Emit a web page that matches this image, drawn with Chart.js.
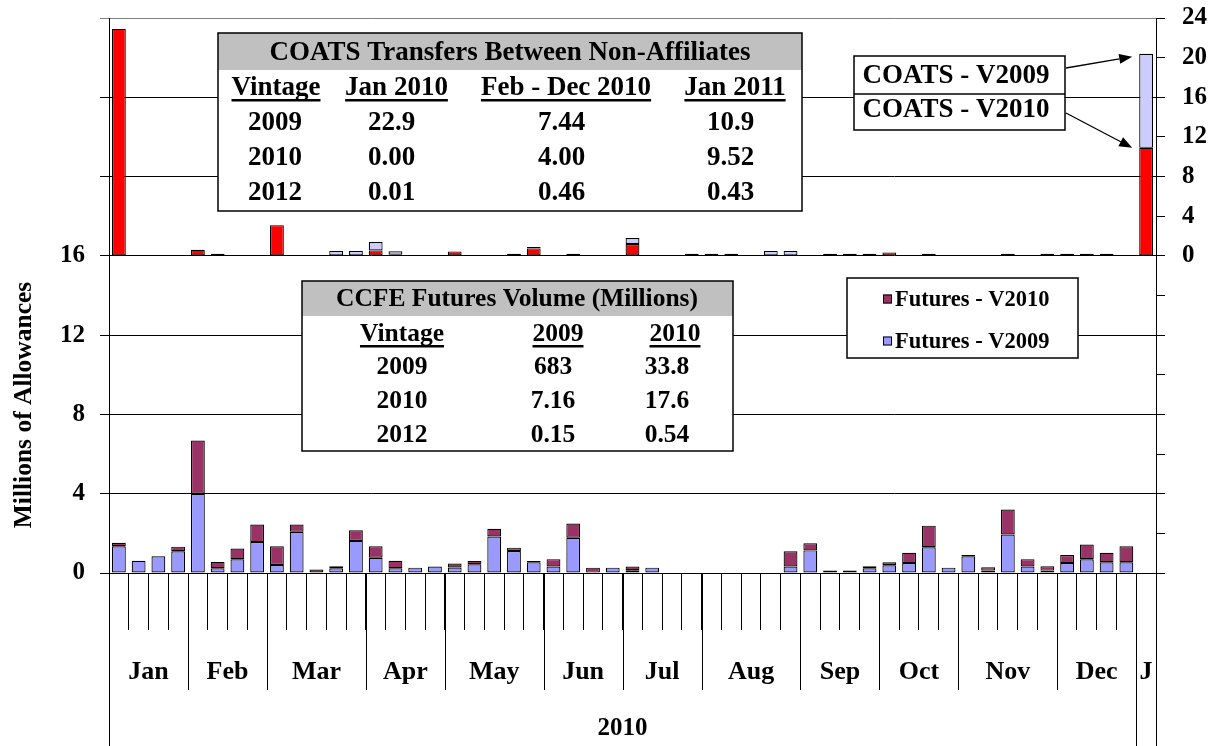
<!DOCTYPE html>
<html><head><meta charset="utf-8">
<script src="https://cdn.jsdelivr.net/npm/chart.js@4.4.0/dist/chart.umd.min.js"></script>
<style>html,body{margin:0;padding:0;background:#fff;}canvas{display:block;}</style>
</head><body>
<canvas id="c" width="1208" height="746"></canvas>
<script>
// ---------- DATA ----------
const weeks = [
 'Jan-1','Jan-2','Jan-3','Jan-4',
 'Feb-1','Feb-2','Feb-3','Feb-4',
 'Mar-1','Mar-2','Mar-3','Mar-4','Mar-5',
 'Apr-1','Apr-2','Apr-3','Apr-4',
 'May-1','May-2','May-3','May-4','May-5',
 'Jun-1','Jun-2','Jun-3','Jun-4',
 'Jul-1','Jul-2','Jul-3','Jul-4',
 'Aug-1','Aug-2','Aug-3','Aug-4','Aug-5',
 'Sep-1','Sep-2','Sep-3','Sep-4',
 'Oct-1','Oct-2','Oct-3','Oct-4',
 'Nov-1','Nov-2','Nov-3','Nov-4','Nov-5',
 'Dec-1','Dec-2','Dec-3','Dec-4',
 'Jan11-1'
];
const monthNames = ['Jan','Feb','Mar','Apr','May','Jun','Jul','Aug','Sep','Oct','Nov','Dec','J'];
const weeksPerMonth = [4,4,5,4,5,4,4,5,4,4,5,4,1];
const yearName = '2010';
const yearMonths = 12;

// COATS transfers (right axis, millions)
const coatsV2010 = [22.9,0,0,0, 0.62,0.22,0,0, 3.1,0,0,0,0, 0.55,0.12,0,0, 0.45,0,0,0.22,0.75,
  0,0.22,0,0, 1.2,0,0,0.22, 0.22,0.22,0,0,0, 0,0.22,0.22,0.22, 0.35,0,0.22,0, 0,0,0.22,0,0.22, 0.22,0.22,0.22,0, 10.9];
const coatsV2009 = [0,0,0,0, 0,0,0,0, 0,0,0,0.5,0.5, 0.85,0.35,0,0, 0,0,0,0,0.15,
  0,0,0,0, 0.6,0,0,0, 0,0,0,0.5,0.5, 0,0,0,0, 0,0,0,0, 0,0,0,0,0, 0,0,0,0, 9.5];

// CCFE futures (left axis, millions)
const futV2009 = [1.35,0.62,0.84,1.1, 4.0,0.24,0.69,1.56, 0.4,2.08,0.03,0.24,1.62, 0.77,0.24,0.27,0.33,
  0.28,0.44,1.84,1.11,0.54, 0.33,1.78,0.02,0.27, 0.14,0.27,0,0, 0,0,0,0,0.33,
  1.14,0.02,0.02,0.24, 0.39,0.5,1.3,0.27, 0.84,0.12,1.94,0.33,0.12, 0.5,0.69,0.54,0.54, 0];
const futV2010 = [0.17,0,0,0.23, 2.68,0.32,0.54,0.89, 0.95,0.37,0.15,0.1,0.54, 0.58,0.38,0,0,
  0.2,0.17,0.39,0.17,0.07, 0.37,0.72,0.25,0, 0.19,0,0,0, 0,0,0,0,0.77,
  0.36,0.11,0.11,0.1, 0.15,0.52,1.09,0, 0.07,0.17,1.26,0.37,0.22, 0.41,0.75,0.48,0.81, 0];

const leftTicksMax = 16, leftMin = 0, leftMax = 28, rightMin = -32, rightMax = 24, tickStep = 4;

const coatsTitle = 'COATS Transfers Between Non-Affiliates';
const coatsHeader = ['Vintage','Jan 2010','Feb - Dec 2010','Jan 2011'];
const coatsRows = [['2009','22.9','7.44','10.9'],['2010','0.00','4.00','9.52'],['2012','0.01','0.46','0.43']];
const ccfeTitle = 'CCFE Futures Volume (Millions)';
const ccfeHeader = ['Vintage','2009','2010'];
const ccfeRows = [['2009','683','33.8'],['2010','7.16','17.6'],['2012','0.15','0.54']];
const coatsLabels = ['COATS - V2009','COATS - V2010'];
const yTitle = 'Millions of Allowances';

// ---------- STYLE ----------
const FAM = '"Liberation Serif","Times New Roman",serif';
const F = s => `bold ${s}px ${FAM}`;
const RED = '#FF0000', LAV = '#CCCCFF', BLUE = '#9999FF', PLUM = '#993366';

const overlay = {
  id: 'overlay',
  afterDraw(chart) {
    const ctx = chart.ctx, x = chart.scales.x, y2 = chart.scales.y2, a = chart.chartArea;
    const step = x.getPixelForValue(1) - x.getPixelForValue(0);
    const edge = i => x.getPixelForValue(0) - step / 2 + i * step;
    const px = v => Math.round(v) + 0.5;
    ctx.save();
    // month / year separators and labels
    ctx.strokeStyle = '#000'; ctx.lineWidth = 1;
    let b = 0; const bounds = [0];
    weeksPerMonth.forEach(n => { b += n; bounds.push(b); });
    bounds.forEach((bi, k) => {
      const full = (k === 0 || k === yearMonths || k === bounds.length - 1);
      ctx.beginPath(); ctx.moveTo(px(edge(bi)), a.bottom); ctx.lineTo(px(edge(bi)), full ? 746 : 690); ctx.stroke();
    });
    ctx.fillStyle = '#000'; ctx.textAlign = 'center'; ctx.textBaseline = 'middle';
    ctx.font = F(26);
    monthNames.forEach((m, k) => {
      ctx.fillText(m, (edge(bounds[k]) + edge(bounds[k + 1])) / 2, 672);
    });
    ctx.font = F(25);
    ctx.fillText(yearName, (edge(0) + edge(bounds[yearMonths])) / 2, 729);
    // y title
    ctx.save(); ctx.translate(24, 405); ctx.rotate(-Math.PI / 2);
    ctx.font = F(25.5); ctx.fillText(yTitle, 0, 0); ctx.restore();

    const box = (x0, y0, x1, y1, hy) => {
      ctx.fillStyle = '#fff'; ctx.fillRect(x0, y0, x1 - x0, y1 - y0);
      if (hy) { ctx.fillStyle = '#C0C0C0'; ctx.fillRect(x0, y0, x1 - x0, hy - y0); }
      ctx.strokeStyle = '#000'; ctx.lineWidth = 1.5; ctx.strokeRect(x0, y0, x1 - x0, y1 - y0);
    };
    const under = (t, cx, cy, off) => {
      const w = ctx.measureText(t).width;
      ctx.fillText(t, cx, cy);
      ctx.fillRect(cx - w / 2, cy + off, w, 2.5);
    };
    // COATS table
    box(218, 33, 802, 211, 70);
    ctx.fillStyle = '#000'; ctx.font = F(27);
    ctx.fillText(coatsTitle, 510, 53);
    const cx1 = [276, 396.5, 566, 735], cr1 = [275, 391.5, 561.5, 730.5];
    coatsHeader.forEach((t, i) => under(t, cx1[i], 88, 11));
    coatsRows.forEach((r, j) => r.forEach((t, i) => ctx.fillText(t, cr1[i], 123 + j * 35)));
    // CCFE table
    box(302, 281, 733, 451, 316);
    ctx.fillStyle = '#000'; ctx.font = F(25.5);
    ctx.fillText(ccfeTitle, 517, 299);
    const cx2 = [402, 558, 675], cr2 = [402, 553, 667];
    ccfeHeader.forEach((t, i) => under(t, cx2[i], 334, 11));
    ccfeRows.forEach((r, j) => r.forEach((t, i) => ctx.fillText(t, cr2[i], 367 + j * 34)));
    // Futures legend
    box(847, 278, 1078, 358);
    ctx.font = F(22.5); ctx.textAlign = 'left';
    [[PLUM, chart.data.datasets[3].label, 299], [BLUE, chart.data.datasets[2].label, 341]].forEach(([c, t, yy]) => {
      ctx.fillStyle = c; ctx.fillRect(883, yy - 4.5, 9, 9);
      ctx.strokeStyle = '#000'; ctx.lineWidth = 1; ctx.strokeRect(883.5, yy - 4, 8, 8);
      ctx.fillStyle = '#000'; ctx.fillText(t, 895, yy + 1);
    });
    // COATS labels with arrows
    ctx.textAlign = 'center';
    box(854, 56, 1065, 130);
    ctx.beginPath(); ctx.moveTo(854, 94); ctx.lineTo(1065, 94); ctx.stroke();
    ctx.fillStyle = '#000'; ctx.font = F(27);
    ctx.fillText(coatsLabels[0], 956, 76);
    ctx.fillText(coatsLabels[1], 956, 110);
    const last = weeks.length - 1;
    const tipX = x.getPixelForValue(last) - step * 0.35 - 7;
    const tips = [[1066, 68, y2.getPixelForValue(coatsV2010[last] + coatsV2009[last]) + 3],
                  [1066, 113, y2.getPixelForValue(coatsV2010[last])]];
    tips.forEach(([sx, sy, ty]) => {
      const ang = Math.atan2(ty - sy, tipX - sx);
      const L = 13, W = 5;
      const bx = tipX - L * Math.cos(ang), by = ty - L * Math.sin(ang);
      ctx.lineWidth = 1.3; ctx.strokeStyle = '#000';
      ctx.beginPath(); ctx.moveTo(sx, sy); ctx.lineTo(bx, by); ctx.stroke();
      ctx.beginPath(); ctx.moveTo(tipX, ty);
      ctx.lineTo(bx + W * Math.sin(ang), by - W * Math.cos(ang));
      ctx.lineTo(bx - W * Math.sin(ang), by + W * Math.cos(ang));
      ctx.closePath(); ctx.fill();
    });
    ctx.restore();
  }
};

const common = { borderColor: '#000', borderWidth: 1.2, borderSkipped: false, grouped: false,
  barPercentage: 0.7, categoryPercentage: 1.0 };

const vFit = w => s => { s.width = w; s.paddingTop = 0; s.paddingBottom = 0; };

new Chart(document.getElementById('c'), {
  type: 'bar',
  data: {
    labels: weeks,
    datasets: [
      Object.assign({ label: 'COATS - V2010', data: coatsV2010, backgroundColor: RED, yAxisID: 'y2' }, common),
      Object.assign({ label: 'COATS - V2009', data: coatsV2009, backgroundColor: LAV, yAxisID: 'y2' }, common),
      Object.assign({ label: 'Futures - V2009', data: futV2009, backgroundColor: BLUE, yAxisID: 'y' }, common),
      Object.assign({ label: 'Futures - V2010', data: futV2010, backgroundColor: PLUM, yAxisID: 'y' }, common)
    ]
  },
  options: {
    responsive: false, animation: false, devicePixelRatio: 1,
    layout: { padding: { top: 18, left: 0, right: 0, bottom: 0 } },
    plugins: { legend: { display: false }, tooltip: { enabled: false } },
    scales: {
      x: {
        offset: true,
        grid: { offset: true, drawOnChartArea: false, drawTicks: true, tickLength: 57, color: '#000', lineWidth: 1 },
        border: { display: true, color: '#000', width: 1 },
        ticks: { display: false },
        afterFit: s => { s.height = 173; s.paddingLeft = 0; s.paddingRight = 0; }
      },
      y: {
        position: 'left', stacked: true, min: leftMin, max: leftMax,
        ticks: { stepSize: tickStep, padding: 15, color: '#000', font: { family: FAM, size: 25, weight: 'bold' },
          callback: v => (v <= leftTicksMax ? v : '') },
        grid: { color: c => (c.tick && c.tick.value === leftMax ? '#808080' : '#000'), lineWidth: 1, tickLength: 9 },
        border: { display: true, color: '#000', width: 1 },
        afterFit: vFit(109)
      },
      y2: {
        position: 'right', stacked: true, min: rightMin, max: rightMax,
        ticks: { stepSize: tickStep, padding: 17, color: '#000', font: { family: FAM, size: 25, weight: 'bold' },
          callback: v => (v >= 0 ? v : '') },
        grid: { drawOnChartArea: false, color: '#000', lineWidth: 1, tickLength: 9 },
        border: { display: true, color: '#000', width: 1 },
        afterFit: vFit(52)
      }
    }
  },
  plugins: [overlay]
});
</script>
</body></html>
